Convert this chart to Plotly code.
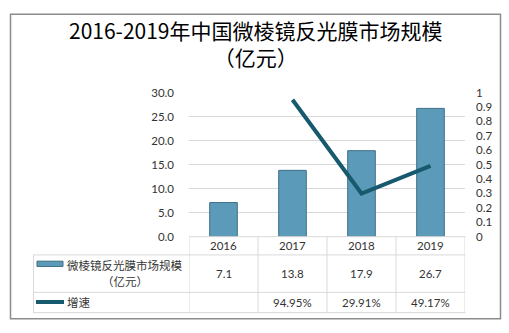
import plotly.graph_objects as go

years = ["2016", "2017", "2018", "2019"]
market_size = [7.1, 13.8, 17.9, 26.7]
growth_pct = [None, 94.95, 29.91, 49.17]
bar_name = "微棱镜反光膜市场规模"
bar_name2 = "（亿元）"
line_name = "增速"
title_l1 = "2016-2019年中国微棱镜反光膜市场规模"
title_l2 = "（亿元）"

W, H = 509, 333
def px(x): return x / W
def py(y): return 1 - y / H

NUM_FONT = "Lato, Liberation Sans, sans-serif"
CJK_FONT = "Noto Sans CJK SC, sans-serif"
TXT = "#333333"
GRID = "#d9d9d9"

fig = go.Figure()
fig.add_trace(go.Bar(
    x=years, y=market_size, width=0.4,
    marker=dict(color="#5b9bb9", line=dict(color="#3e6f86", width=1)),
    yaxis="y", showlegend=False))
fig.add_trace(go.Scatter(
    x=years, y=[None if g is None else g / 100 for g in growth_pct],
    mode="lines", line=dict(color="#175a6e", width=4),
    yaxis="y2", showlegend=False, connectgaps=False))

shapes = []
# outer border
shapes.append(dict(type="rect", xref="paper", yref="paper",
                   x0=px(10.5), x1=px(500.5), y0=py(324.5), y1=py(7.5),
                   line=dict(color="#8c8c8c", width=1.5)))
# table horizontal lines
for yy, x0 in [(239, 189), (258, 33), (297, 33), (318, 33)]:
    shapes.append(dict(type="line", xref="paper", yref="paper",
                       x0=px(x0), x1=px(465.5), y0=py(yy), y1=py(yy),
                       line=dict(color=GRID, width=1)))
# table vertical lines
shapes.append(dict(type="line", xref="paper", yref="paper",
                   x0=px(33.5), x1=px(33.5), y0=py(258), y1=py(318),
                   line=dict(color=GRID, width=1)))
for i in range(len(years) + 1):
    shapes.append(dict(type="line", xref="x", yref="paper",
                       x0=i - 0.5, x1=i - 0.5, y0=py(239), y1=py(318),
                       line=dict(color=GRID, width=1)))
# legend symbols
shapes.append(dict(type="rect", xref="paper", yref="paper",
                   x0=px(37), x1=px(63), y0=py(270), y1=py(264.5),
                   fillcolor="#5b9bb9", line=dict(color="#3e6f86", width=1)))
shapes.append(dict(type="line", xref="paper", yref="paper",
                   x0=px(36), x1=px(64), y0=py(307), y1=py(307),
                   line=dict(color="#175a6e", width=4)))

ann = []
ann.append(dict(text=title_l1 + "<br>" + title_l2, xref="paper", yref="paper",
                x=px(256), y=py(38), xanchor="center", yanchor="middle", showarrow=False,
                font=dict(family=CJK_FONT, size=21, color="#000000")))
for i, yr in enumerate(years):
    ann.append(dict(text=yr, xref="x", yref="paper", x=i, y=py(248),
                    xanchor="center", yanchor="middle", showarrow=False,
                    font=dict(family=NUM_FONT, size=11.5, color=TXT)))
    ann.append(dict(text=f"{market_size[i]:.1f}", xref="x", yref="paper", x=i, y=py(277),
                    xanchor="center", yanchor="middle", showarrow=False,
                    font=dict(family=NUM_FONT, size=11.5, color=TXT)))
    if growth_pct[i] is not None:
        ann.append(dict(text=f"{growth_pct[i]:.2f}%", xref="x", yref="paper", x=i, y=py(307.5),
                        xanchor="center", yanchor="middle", showarrow=False,
                        font=dict(family=NUM_FONT, size=11.5, color=TXT)))
ann.append(dict(text=bar_name, xref="paper", yref="paper", x=px(65), y=py(268.5),
                xanchor="left", yanchor="middle", showarrow=False,
                font=dict(family=CJK_FONT, size=11.5, color=TXT)))
ann.append(dict(text=bar_name2, xref="paper", yref="paper", x=px(125), y=py(285),
                xanchor="center", yanchor="middle", showarrow=False,
                font=dict(family=CJK_FONT, size=11.5, color=TXT)))
ann.append(dict(text=line_name, xref="paper", yref="paper", x=px(65), y=py(307),
                xanchor="left", yanchor="middle", showarrow=False,
                font=dict(family=CJK_FONT, size=11.5, color=TXT)))

fig.update_layout(
    width=W, height=H, margin=dict(l=0, r=0, t=0, b=0),
    paper_bgcolor="white", plot_bgcolor="white",
    xaxis=dict(type="category", domain=[px(189), px(465)], range=[-0.5, 3.5],
               showticklabels=False, showgrid=False, zeroline=False, showline=False),
    yaxis=dict(domain=[py(239), py(89)], range=[0, 30], dtick=5, tickformat=".1f",
               showgrid=True, gridcolor=GRID, gridwidth=1, zeroline=False, showline=False,
               ticklabelstandoff=14,
               tickfont=dict(family=NUM_FONT, size=11.5, color=TXT)),
    yaxis2=dict(domain=[py(239), py(89)], range=[0, 1], dtick=0.1, overlaying="y",
                side="right", showgrid=False, zeroline=False, showline=False,
                ticklabelstandoff=10,
                tickfont=dict(family=NUM_FONT, size=11.5, color=TXT)),
    shapes=shapes, annotations=ann, bargap=0.6,
)
fig.write_html("out.html")
